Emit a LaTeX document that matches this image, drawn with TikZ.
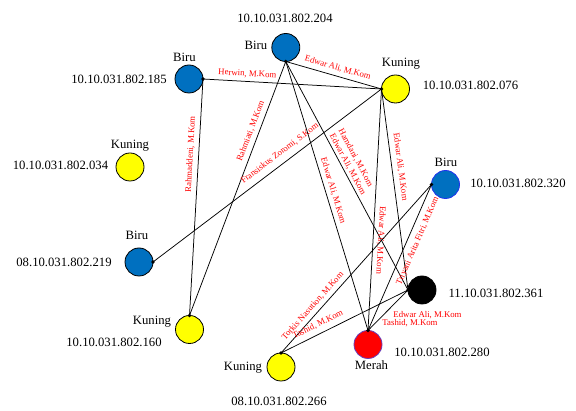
\documentclass[tikz,border=0pt]{standalone}
\usepackage{fontspec}
\setmainfont{Liberation Serif}
\definecolor{cblue}{HTML}{0070C0}
\definecolor{cyellow}{HTML}{FFFF00}
\definecolor{cred}{HTML}{FF0000}
\definecolor{bordblue}{HTML}{2233EE}
\definecolor{bordpurple}{HTML}{6A3DB8}
\begin{document}
\begin{tikzpicture}[x=1pt,y=-1pt,
  host/.style={circle,draw=black,line width=0.8pt,minimum size=28pt,inner sep=0pt,outer sep=0pt},
  tag/.style={font=\fontsize{12.7}{15}\selectfont,inner sep=0pt,anchor=base},
  link/.style={draw=black,line width=0.75pt},
  lbl/.style={font=\fontsize{8.75}{10}\selectfont,text=cred,inner sep=1pt,sloped},
  flat/.style={font=\fontsize{8.75}{10}\selectfont,text=cred,inner sep=0pt,anchor=base}
]
\useasboundingbox (0,0) rectangle (576,411);

% hosts
\node[host,fill=cblue] (n204) at (285.8,47.5) {};
\node[host,fill=cblue] (n185) at (189,79) {};
\node[host,fill=cyellow] (n076) at (395.5,89) {};
\node[host,fill=cyellow] (n034) at (130,167) {};
\node[host,fill=cblue] (n219) at (139,262) {};
\node[host,fill=cblue,draw=bordblue] (n320) at (445.5,184.5) {};
\node[host,fill=black] (n361) at (422,290) {};
\node[host,fill=cred,draw=bordpurple] (n280) at (368,344.5) {};
\node[host,fill=cyellow] (n266) at (281,367) {};
\node[host,fill=cyellow] (n160) at (189.5,329.5) {};

% connection points
\coordinate (p204) at (n204.south);
\coordinate (p185) at (n185.east);
\coordinate (p076) at (n076.west);
\coordinate (p219) at (n219.east);
\coordinate (p320) at (n320.west);
\coordinate (p361) at (n361.west);
\coordinate (p280) at (n280.north);
\coordinate (p266) at (n266.north);
\coordinate (p160) at (n160.north);

% links
\draw[link] (p185) -- node[lbl,pos=0.246,above=2.5pt] (l1) {Herwin, M.Kom} (p076);
\draw[link] (p204) -- node[lbl,pos=0.52,above=3pt] (l2) {Edwar Ali, M.Kom} (p076);
\draw[link] (p185) -- node[lbl,pos=0.32,above=3pt] (l3) {Rahmaddeni, M.Kom} (p160);
\draw[link] (p204) -- node[lbl,pos=0.285,above=3pt] (l4) {Rahmiati, M.Kom} (p160);
\draw[link] (p076) -- node[lbl,pos=0.418,above=5pt] (l5) {Fransiskus Zoromi, S.Kom} (p219);
\draw[link] (p204) -- node[lbl,pos=0.488,above=2.5pt] (l6) {Edwar Ali, M.Kom} (p280);
\draw[link] (p204) -- node[lbl,pos=0.463,above=1pt] (l7) {Edwar Ali, M.Kom}
                      node[lbl,pos=0.455,above=11pt] (l8) {Hamdani, M.Kom} (p361);
\draw[link] (p076) -- node[lbl,pos=0.624,above=2.5pt,allow upside down] (l9) {Edwar Ali, M.Kom} (p280);
\draw[link] (p076) -- node[lbl,pos=0.393,above=3.5pt] (l10) {Edwar Ali, M.Kom} (p361);
\draw[link] (p320) -- node[lbl,pos=0.751,above=2.5pt] (l11) {Torkis Nasution, M.Kom} (p266);
\draw[link] (p320) -- node[lbl,pos=0.36,below=5pt] (l12) {Triyani Arita Fitri, M.Kom} (p280);
\draw[link] (p361) -- node[lbl,pos=0.678,above=4pt] (l13) {Tashid, M.Kom} (p266);
\draw[link] (p361) -- node[flat,pos=0.5,xshift=39.5pt,yshift=-6.8pt] (l14) {Edwar Ali, M.Kom}
                      node[flat,pos=0.5,xshift=22pt,yshift=-15.5pt] (l15) {Tashid, M.Kom} (p280);

% dots
\foreach \p in {p204,p185,p076,p219,p320,p361,p280,p266,p160}
  \fill[black] (\p) circle (1.9pt);

% host captions
\node[tag] (t204a) at (285,22.3) {10.10.031.802.204};
\node[tag] (t204b) at (256,50) {Biru};
\node[tag] (t185a) at (119,83.3) {10.10.031.802.185};
\node[tag] (t185b) at (184.5,61.7) {Biru};
\node[tag] (t076a) at (470.5,90) {10.10.031.802.076};
\node[tag] (t076b) at (401,66.7) {Kuning};
\node[tag] (t034a) at (60.5,170) {10.10.031.802.034};
\node[tag] (t034b) at (130,148.3) {Kuning};
\node[tag] (t219a) at (64,266.7) {08.10.031.802.219};
\node[tag] (t219b) at (137,240) {Biru};
\node[tag] (t320a) at (518,187.7) {10.10.031.802.320};
\node[tag] (t320b) at (446,167) {Biru};
\node[tag] (t361a) at (496,298) {11.10.031.802.361};
\node[tag] (t280a) at (442,357) {10.10.031.802.280};
\node[tag] (t280b) at (371.5,370) {Merah};
\node[tag] (t266a) at (279,406) {08.10.031.802.266};
\node[tag] (t266b) at (243,370.7) {Kuning};
\node[tag] (t160a) at (114,346.7) {10.10.031.802.160};
\node[tag] (t160b) at (152,325) {Kuning};
\end{tikzpicture}
\end{document}
